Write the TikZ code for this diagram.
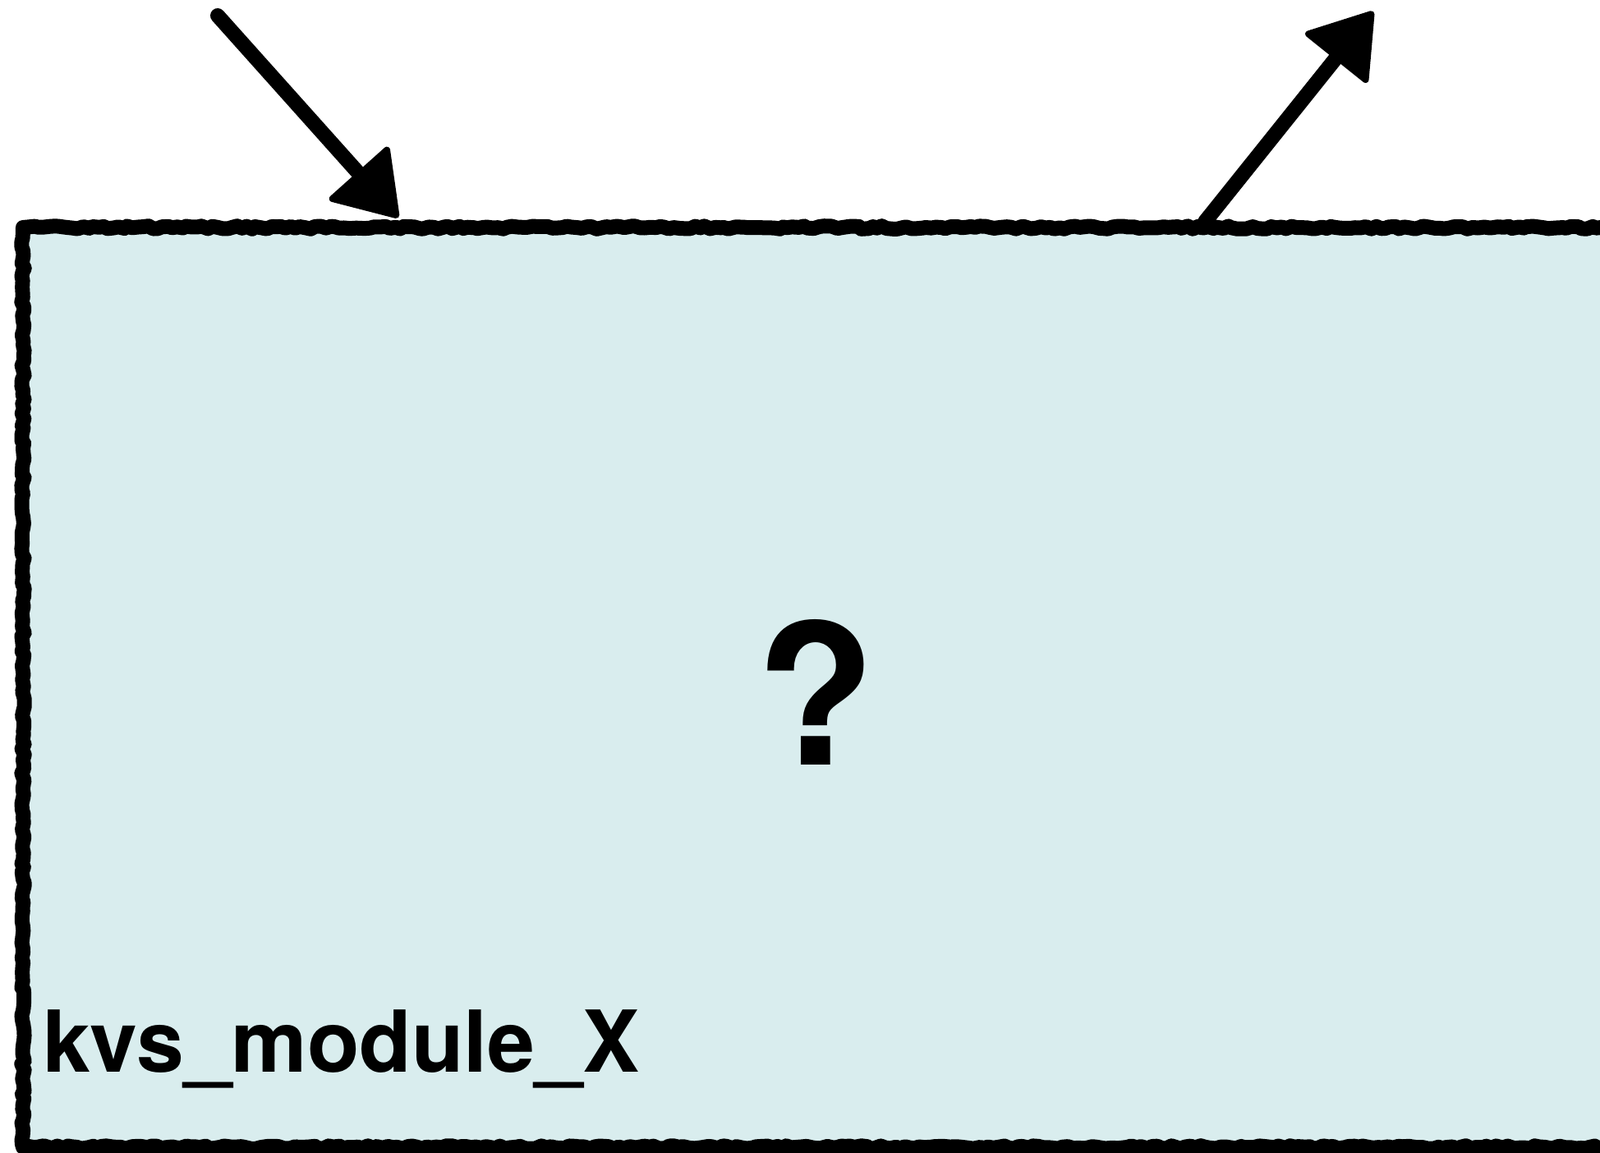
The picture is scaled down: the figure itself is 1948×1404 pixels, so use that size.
\documentclass[tikz,border=0pt]{standalone}
\usepackage{fontspec}
\setmainfont{TeX Gyre Heros}
\usetikzlibrary{arrows.meta,decorations.pathmorphing}
\definecolor{boxfill}{RGB}{217,237,238}
\tikzset{
  modulebox/.style={draw=black, fill=boxfill, line width=18pt, rectangle, inner sep=0pt, outer sep=0pt,
    minimum width=2000pt, minimum height=1120pt, line join=round,
    decorate, decoration={random steps, segment length=6pt, amplitude=1.8pt}},
  flow/.style={line width=18pt, draw=black, line cap=round,
    -{Triangle[length=78pt,width=102pt,line width=8pt,round]}},
  bigtext/.style={font=\bfseries\fontsize{104pt}{120pt}\selectfont, inner sep=0pt, outer sep=0pt, text=black},
  qtext/.style={font=\bfseries\fontsize{238pt}{260pt}\selectfont, inner sep=0pt, outer sep=0pt, text=black}
}
\begin{document}
\begin{tikzpicture}[x=1pt,y=-1pt]
\useasboundingbox (0,0) rectangle (1948,1404);
\node[modulebox] (box) at (1028,837) {};
\coordinate (s1) at (265,19);
\coordinate (s2) at (1672,14);
\draw[flow] (s1) -- ([xshift=457pt,yshift=12pt]box.north west);
\draw[flow] ([xshift=1439pt,yshift=7pt]box.north west) -- (s2);
\node[bigtext, anchor=base west] (label) at (52,1305) {kvs\_module\_X};
\node[qtext, anchor=base] (q) at (993,931) {?};
\end{tikzpicture}
\end{document}
